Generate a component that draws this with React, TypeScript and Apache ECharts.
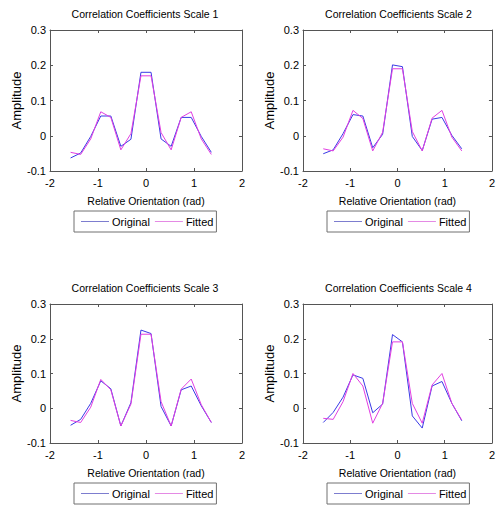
import React, { useEffect, useRef } from "react";
import * as echarts from "echarts";

const orientations = [-1.571, -1.361, -1.152, -0.942, -0.733, -0.524, -0.314, -0.105, 0.105, 0.314, 0.524, 0.733, 0.942, 1.152, 1.361];

const original1 = [-0.063, -0.049, -0.002, 0.056, 0.056, -0.030, -0.010, 0.180, 0.180, -0.009, -0.030, 0.052, 0.052, -0.002, -0.047];
const fitted1 = [-0.047, -0.053, -0.009, 0.068, 0.052, -0.040, 0.006, 0.170, 0.170, 0.009, -0.040, 0.052, 0.068, -0.009, -0.053];

const original2 = [-0.051, -0.040, 0.006, 0.060, 0.056, -0.034, 0.004, 0.201, 0.196, -0.002, -0.042, 0.047, 0.052, 0.001, -0.037];
const fitted2 = [-0.037, -0.043, -0.004, 0.072, 0.049, -0.043, 0.010, 0.190, 0.190, 0.012, -0.043, 0.050, 0.072, -0.004, -0.043];

const original3 = [-0.049, -0.032, 0.014, 0.079, 0.056, -0.051, 0.016, 0.225, 0.215, 0.005, -0.051, 0.053, 0.064, 0.007, -0.041];
const fitted3 = [-0.035, -0.041, 0.003, 0.083, 0.053, -0.051, 0.012, 0.213, 0.213, 0.019, -0.051, 0.055, 0.084, 0.010, -0.041];

const original4 = [-0.041, -0.012, 0.032, 0.096, 0.086, -0.013, 0.012, 0.212, 0.191, -0.022, -0.057, 0.064, 0.077, 0.014, -0.036];
const fitted4 = [-0.029, -0.032, 0.019, 0.100, 0.064, -0.043, 0.014, 0.191, 0.191, 0.014, -0.043, 0.067, 0.100, 0.014, -0.034];

const titles = [
  "Correlation Coefficients Scale 1",
  "Correlation Coefficients Scale 2",
  "Correlation Coefficients Scale 3",
  "Correlation Coefficients Scale 4",
];
const seriesNames = ["Original", "Fitted"];
const xTicks = { min: -2, max: 2, interval: 1 };
const yTicks = { min: -0.1, max: 0.3, interval: 0.1 };
const xAxisName = "Relative Orientation (rad)";
const yAxisName = "Amplitude";

const panels = [
  { orig: original1, fit: fitted1 },
  { orig: original2, fit: fitted2 },
  { orig: original3, fit: fitted3 },
  { orig: original4, fit: fitted4 },
];

const FONT = "'Liberation Sans', Arial, Helvetica, sans-serif";
const BLUE = "#3a3ae6";
const MAGENTA = "#e23ee2";
const FRAME = "#555555";

const layouts = [
  { left: 50, top: 30, width: 192, height: 141 },
  { left: 303, top: 30, width: 193, height: 141 },
  { left: 50, top: 304, width: 192, height: 139 },
  { left: 303, top: 304, width: 193, height: 139 },
];

function fmt(v: number) {
  const r = Math.round(v * 10) / 10;
  return String(r === 0 ? 0 : r);
}

export default function App() {
  const ref = useRef<HTMLDivElement>(null);
  useEffect(() => {
    if (!ref.current) return;
    const chart = echarts.init(ref.current, undefined, { renderer: "svg" });

    const grid: any[] = [];
    const xAxis: any[] = [];
    const yAxis: any[] = [];
    const series: any[] = [];
    const title: any[] = [];
    const legend: any[] = [];

    layouts.forEach((L, i) => {
      grid.push({ left: L.left, top: L.top, width: L.width, height: L.height, containLabel: false });
      const axisLine = { show: true, onZero: false, lineStyle: { color: FRAME, width: 1 } };
      const axisTick = { show: true, inside: true, length: 3, lineStyle: { color: FRAME } };
      xAxis.push({
        type: "value", gridIndex: i, position: "bottom", ...xTicks,
        axisLine, axisTick, splitLine: { show: false },
        axisLabel: { color: "#000", fontSize: 11, fontFamily: FONT, margin: 6, formatter: fmt },
        name: xAxisName, nameLocation: "middle", nameGap: 24,
        nameTextStyle: { color: "#000", fontSize: 10.5, fontFamily: FONT },
      });
      xAxis.push({
        type: "value", gridIndex: i, position: "top", ...xTicks,
        axisLine, axisTick, splitLine: { show: false }, axisLabel: { show: false },
      });
      yAxis.push({
        type: "value", gridIndex: i, position: "left", ...yTicks,
        axisLine, axisTick, splitLine: { show: false },
        axisLabel: { color: "#000", fontSize: 11, fontFamily: FONT, margin: 4, formatter: fmt },
        name: yAxisName, nameLocation: "middle", nameGap: 26, nameRotate: 90,
        nameTextStyle: { color: "#000", fontSize: 13, fontFamily: FONT },
      });
      yAxis.push({
        type: "value", gridIndex: i, position: "right", ...yTicks,
        axisLine, axisTick, splitLine: { show: false }, axisLabel: { show: false },
      });
      const p = panels[i];
      series.push({
        type: "line", name: seriesNames[0], xAxisIndex: 2 * i, yAxisIndex: 2 * i,
        data: orientations.map((x, k) => [x, p.orig[k]]),
        symbol: "none", showSymbol: false, color: BLUE,
        lineStyle: { color: BLUE, width: 1 },
      });
      series.push({
        type: "line", name: seriesNames[1], xAxisIndex: 2 * i, yAxisIndex: 2 * i,
        data: orientations.map((x, k) => [x, p.fit[k]]),
        symbol: "none", showSymbol: false, color: MAGENTA,
        lineStyle: { color: MAGENTA, width: 1 },
      });
      title.push({
        text: titles[i], left: L.left + L.width / 2 - 1, top: L.top - 16,
        textAlign: "center", textVerticalAlign: "middle", padding: 0,
        textStyle: { color: "#000", fontSize: 10.5, fontWeight: "normal", fontFamily: FONT },
      });
      legend.push({
        left: L.left + 24, top: L.top + L.height + 40,
        orient: "horizontal", itemWidth: 28, itemHeight: 1, itemGap: 5,
        padding: [5, 3, 5, 7],
        icon: "rect",
        borderColor: "#707070", borderWidth: 1, backgroundColor: "#fff",
        selectedMode: false,
        textStyle: { color: "#000", fontSize: 11, fontFamily: FONT, padding: [0, 0, 0, -2] },
        data: [
          { name: seriesNames[0], icon: "rect", itemStyle: { color: "#7d7dcf", borderWidth: 0 } },
          { name: seriesNames[1], icon: "rect", itemStyle: { color: "#e48ae4", borderWidth: 0 } },
        ],
      });
    });

    chart.setOption({
      animation: false,
      backgroundColor: "#fff",
      textStyle: { fontFamily: FONT },
      title, legend, grid, xAxis, yAxis, series,
    });
    return () => chart.dispose();
  }, []);
  return (
    <div
      ref={ref}
      style={{ position: "fixed", left: 0, top: 0, width: 498, height: 507, background: "#fff" }}
    />
  );
}
